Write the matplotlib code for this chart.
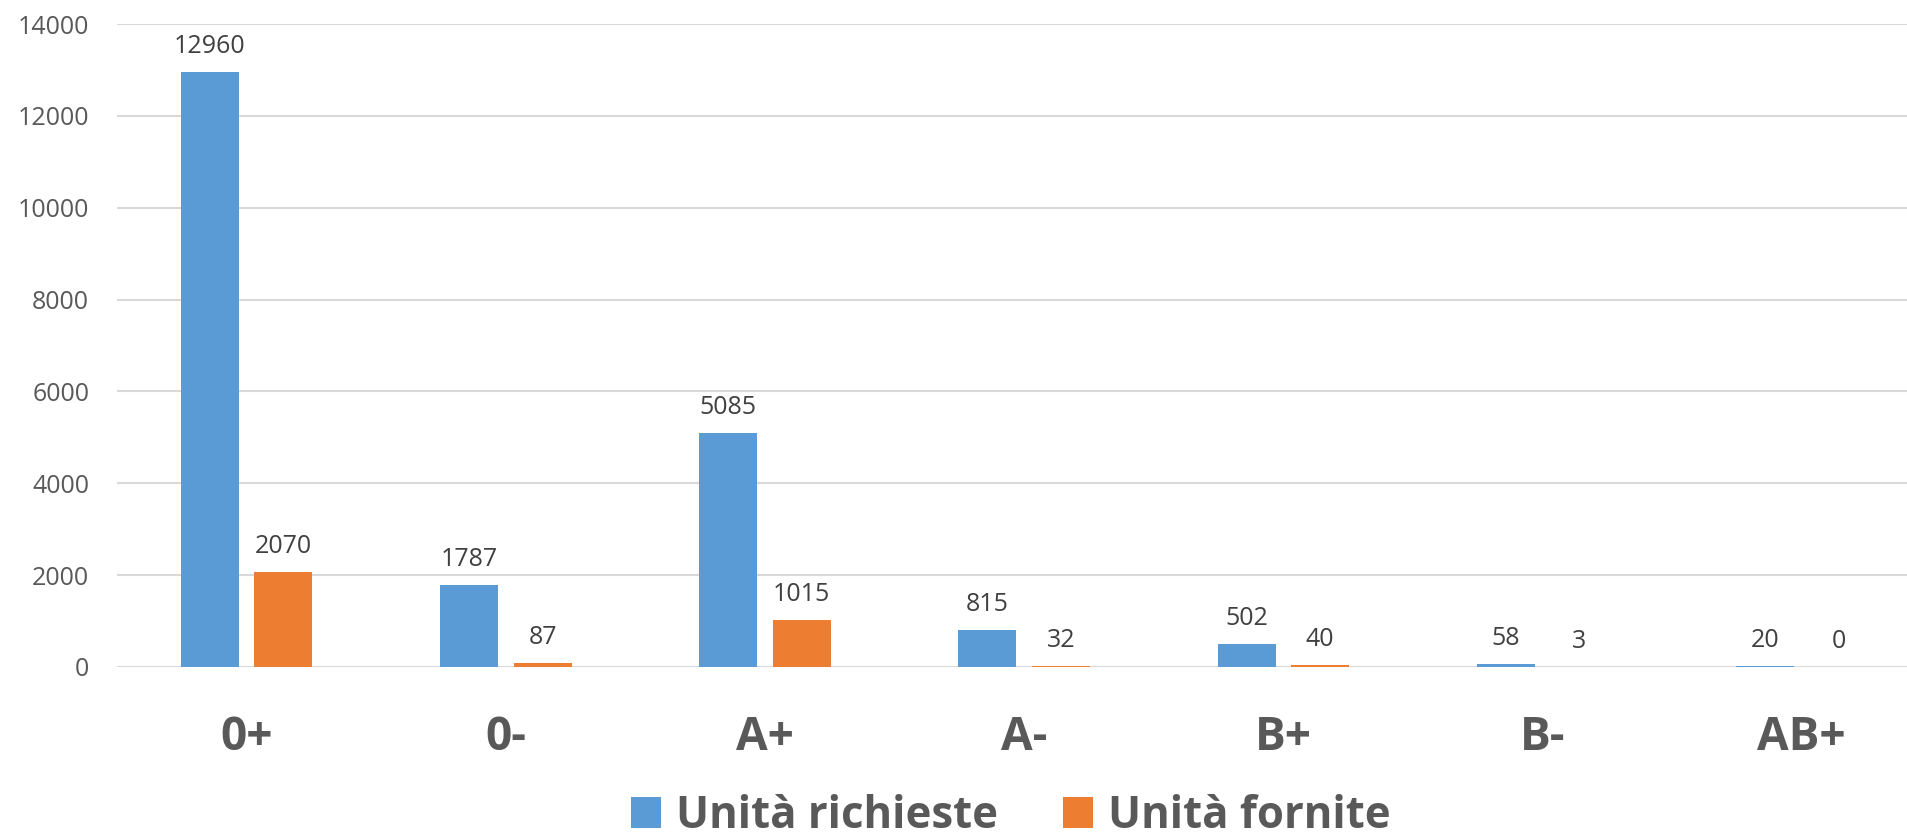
import matplotlib
matplotlib.use("Agg")
import matplotlib.pyplot as plt
import numpy as np

categories = ["0+", "0-", "A+", "A-", "B+", "B-", "AB+"]
richieste = [12960, 1787, 5085, 815, 502, 58, 20]
fornite = [2070, 87, 1015, 32, 40, 3, 0]
series_names = ["Unità richieste", "Unità fornite"]
yticks = [0, 2000, 4000, 6000, 8000, 10000, 12000, 14000]

plt.rcParams['font.family'] = ['Open Sans', 'DejaVu Sans']

W, H = 1907, 840
fig = plt.figure(figsize=(W / 100, H / 100), dpi=100)
left_px, right_px = 117, 1931.4
top_px, bot_px = 24, 667
ax = fig.add_axes([left_px / W, (H - bot_px) / H, (right_px - left_px) / W, (bot_px - top_px) / H])

x = np.arange(len(categories))
bw = 0.224
off = 0.142
blue = "#5B9BD5"
orange = "#ED7D31"
b1 = ax.bar(x - off, richieste, bw, color=blue, label=series_names[0], zorder=3)
b2 = ax.bar(x + off, fornite, bw, color=orange, label=series_names[1], zorder=3)

for bars, vals in ((b1, richieste), (b2, fornite)):
    for rect, v in zip(bars, vals):
        ax.annotate(f"{v}", (rect.get_x() + rect.get_width() / 2, v),
                    xytext=(0, 13.7), textcoords="offset points",
                    ha="center", va="baseline", fontsize=18, color="#404040")

ax.set_xlim(-0.5, len(categories) - 0.5)
ax.set_ylim(0, 14000)
ax.set_yticks(yticks)
ax.set_yticklabels([str(v) for v in yticks])
ax.set_xticks(x)
ax.set_xticklabels(categories)
ax.tick_params(axis="y", length=0, pad=20, labelsize=18, labelcolor="#595959")
ax.tick_params(axis="x", length=0, pad=34, labelsize=33, labelcolor="#595959")
for lab in ax.get_xticklabels():
    lab.set_fontweight("bold")
for s in ax.spines.values():
    s.set_visible(False)
ax.yaxis.grid(True, color="#D9D9D9", linewidth=1.5, zorder=0)
ax.set_axisbelow(True)

leg = fig.legend(handles=[b1, b2], labels=series_names, loc="center",
                 bbox_to_anchor=(1011 / W, (H - 816) / H), ncol=2, frameon=False,
                 prop={"size": 31.5, "weight": "bold"}, handlelength=0.686, handleheight=0.71,
                 handletextpad=0.34, columnspacing=1.49, borderpad=0, borderaxespad=0)
for t in leg.get_texts():
    t.set_color("#595959")

fig.savefig("out.png", dpi=100)
